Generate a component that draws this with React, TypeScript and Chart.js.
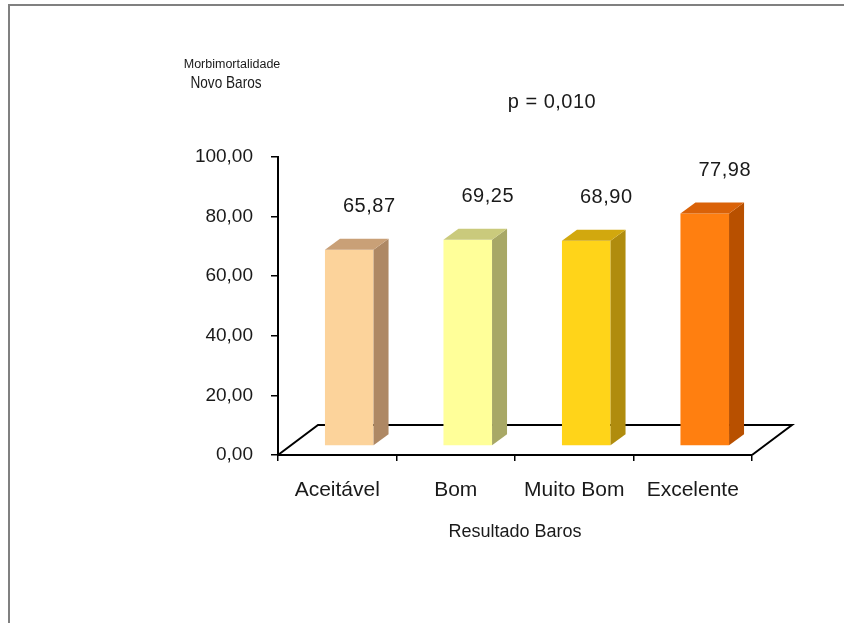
import React, { useEffect, useRef } from 'react';
import { Chart, registerables } from 'chart.js';

Chart.register(...registerables);

// Data
const categories = ['Aceitável', 'Bom', 'Muito Bom', 'Excelente'];
const values = [65.87, 69.25, 68.9, 77.98];
const yTicks = [0, 20, 40, 60, 80, 100];
const yTitleTop = 'Morbimortalidade';
const yTitleBottom = 'Novo Baros';
const xTitle = 'Resultado Baros';
const pValueText = 'p = 0,010';

// Bar face colours (front, right side, top)
const frontColors = ['#FCD39B', '#FFFF99', '#FFD419', '#FF7F10'];
const sideColors = ['#AE8864', '#A8A866', '#B08C0E', '#B85000'];
const topColors = ['#C9A077', '#CACA7C', '#D2A80E', '#DA6208'];

// 3D geometry
const FLOOR_DX = 40;
const FLOOR_DY = 30;
const BAR_SHIFT_X = 12;
const BAR_SHIFT_Y = 9;
const BAR_DEPTH_X = 15;
const BAR_DEPTH_Y = 11;

const FONT = '"Liberation Sans", Arial, Helvetica, sans-serif';
const TEXT = '#1a1a1a';

const fmt = (v: number) => v.toFixed(2).replace('.', ',');

const bar3d = {
  id: 'bar3d',
  beforeDraw(chart: any) {
    const ctx = chart.ctx;
    ctx.save();
    ctx.fillStyle = '#ffffff';
    ctx.fillRect(0, 0, chart.width, chart.height);
    // outer frame
    ctx.fillStyle = '#808080';
    ctx.fillRect(8, 4, chart.width - 8, 2);
    ctx.fillRect(8, 4, 2, chart.height - 4);
    ctx.restore();
  },
  beforeDatasetsDraw(chart: any) {
    const { ctx, chartArea: a } = chart;
    // floor
    ctx.save();
    ctx.strokeStyle = '#000';
    ctx.lineWidth = 2;
    ctx.lineJoin = 'miter';
    ctx.beginPath();
    ctx.moveTo(a.left, a.bottom);
    ctx.lineTo(a.left + FLOOR_DX, a.bottom - FLOOR_DY);
    ctx.lineTo(a.right + FLOOR_DX, a.bottom - FLOOR_DY);
    ctx.lineTo(a.right, a.bottom);
    ctx.stroke();
    ctx.restore();
    // front faces sit part-way into the floor depth
    ctx.save();
    ctx.translate(BAR_SHIFT_X, -BAR_SHIFT_Y);
  },
  afterDatasetsDraw(chart: any) {
    const ctx = chart.ctx;
    ctx.restore();
    const meta = chart.getDatasetMeta(0);
    meta.data.forEach((el: any, i: number) => {
      const { x, y, base, width } = el.getProps(['x', 'y', 'base', 'width'], true);
      const l = x - width / 2 + BAR_SHIFT_X;
      const r = x + width / 2 + BAR_SHIFT_X;
      const t = y - BAR_SHIFT_Y;
      const b = base - BAR_SHIFT_Y;
      ctx.save();
      // side face
      ctx.fillStyle = sideColors[i];
      ctx.beginPath();
      ctx.moveTo(r, t);
      ctx.lineTo(r + BAR_DEPTH_X, t - BAR_DEPTH_Y);
      ctx.lineTo(r + BAR_DEPTH_X, b - BAR_DEPTH_Y);
      ctx.lineTo(r, b);
      ctx.closePath();
      ctx.fill();
      // top face
      ctx.fillStyle = topColors[i];
      ctx.beginPath();
      ctx.moveTo(l, t);
      ctx.lineTo(l + BAR_DEPTH_X, t - BAR_DEPTH_Y);
      ctx.lineTo(r + BAR_DEPTH_X, t - BAR_DEPTH_Y);
      ctx.lineTo(r, t);
      ctx.closePath();
      ctx.fill();
      // value label
      ctx.font = `20px ${FONT}`;
      (ctx as any).letterSpacing = '0.5px';
      ctx.fillStyle = TEXT;
      ctx.textAlign = 'center';
      ctx.textBaseline = 'middle';
      ctx.fillText(fmt(values[i]), (l + r) / 2 + 20, t - 43);
      ctx.restore();
    });
  },
  afterDraw(chart: any) {
    const { ctx, chartArea: a } = chart;
    ctx.save();
    ctx.fillStyle = TEXT;
    ctx.textAlign = 'center';
    ctx.textBaseline = 'middle';
    // y-axis title, two lines at the top-left
    ctx.font = `12.5px ${FONT}`;
    ctx.fillText(yTitleTop, 232, 65);
    ctx.save();
    ctx.translate(226, 83);
    ctx.scale(0.8, 1);
    ctx.font = `17px ${FONT}`;
    ctx.fillText(yTitleBottom, 0, 0);
    ctx.restore();
    // x-axis title
    ctx.font = `18px ${FONT}`;
    ctx.fillText(xTitle, (a.left + a.right) / 2, 532);
    // significance note
    ctx.font = `20px ${FONT}`;
    (ctx as any).letterSpacing = '0.5px';
    ctx.fillText(pValueText, 552, 102);
    ctx.restore();
  },
};

export default function App() {
  const canvasRef = useRef<HTMLCanvasElement>(null);

  useEffect(() => {
    const canvas = canvasRef.current;
    if (!canvas) return;
    const chart = new Chart(canvas, {
      type: 'bar',
      data: {
        labels: categories,
        datasets: [
          {
            data: values,
            backgroundColor: frontColors,
            borderWidth: 0,
            categoryPercentage: 1,
            barPercentage: 0.41,
          },
        ],
      },
      options: {
        responsive: false,
        maintainAspectRatio: false,
        animation: false,
        events: [],
        layout: { padding: { left: 0, right: 92, top: 157, bottom: 80 } },
        plugins: {
          legend: { display: false },
          tooltip: { enabled: false },
          title: { display: false },
        },
        scales: {
          x: {
            afterFit: (scale: any) => {
              scale.height = 88;
            },
            grid: {
              display: true,
              drawOnChartArea: false,
              drawTicks: true,
              tickLength: 6,
              color: '#000',
              lineWidth: 1.5,
            },
            border: { display: true, color: '#000', width: 2 },
            ticks: {
              color: TEXT,
              font: { family: FONT, size: 21 },
              padding: 17,
              maxRotation: 0,
              autoSkip: false,
            },
          },
          y: {
            min: 0,
            max: 100,
            afterFit: (scale: any) => {
              scale.width = 278;
            },
            afterBuildTicks: (scale: any) => {
              scale.ticks = yTicks.map((v) => ({ value: v }));
            },
            grid: {
              display: true,
              drawOnChartArea: false,
              drawTicks: true,
              tickLength: 7,
              color: '#000',
              lineWidth: 1.5,
            },
            border: { display: true, color: '#000', width: 2 },
            ticks: {
              color: TEXT,
              font: { family: FONT, size: 19 },
              padding: 18,
              callback: (v: any) => fmt(Number(v)),
            },
          },
        },
      },
      plugins: [bar3d],
    } as any);
    return () => chart.destroy();
  }, []);

  return (
    <div
      style={{
        position: 'fixed',
        left: 0,
        top: 0,
        width: 844,
        height: 623,
        background: '#ffffff',
      }}
    >
      <canvas ref={canvasRef} width={844} height={623} style={{ display: 'block' }} />
    </div>
  );
}
